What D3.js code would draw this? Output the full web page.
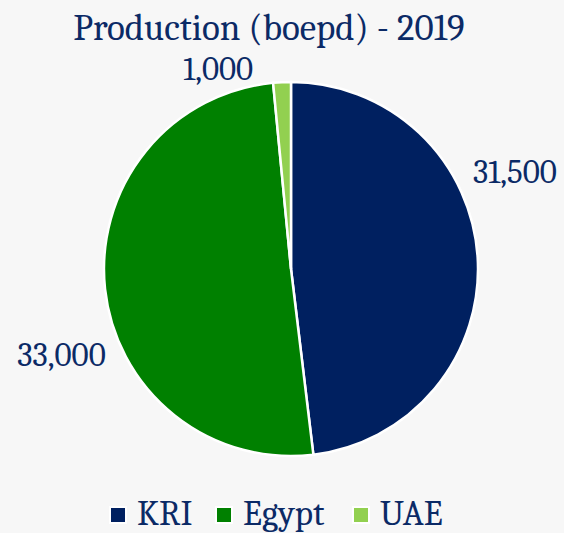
<!DOCTYPE html>
<html>
<head>
<meta charset="utf-8">
<script src="https://cdn.jsdelivr.net/npm/d3@7"></script>
<style>
  body { margin: 0; background: #f7f7f7; }
  svg { display: block; }
</style>
</head>
<body>
<div id="chart"></div>
<script>
const categories = ["KRI", "Egypt", "UAE"];
const values = [31500, 33000, 1000];
const colors = ["#002060", "#008000", "#92d050"];

const width = 564, height = 533;
const cx = 291, cy = 269, radius = 187;
const font = "Cambria, 'Liberation Serif', 'DejaVu Serif', serif";
const navy = "#0b2a66";

const data = categories.map((c, i) => ({ name: c, value: values[i], color: colors[i] }));

const svg = d3.select("#chart")
    .append("svg")
        .attr("width", width)
        .attr("height", height);

svg.append("rect")
    .attr("width", width)
    .attr("height", height)
    .attr("fill", "#f7f7f7");

// Titre
svg.append("text")
    .attr("x", 269)
    .attr("y", 40)
    .attr("text-anchor", "middle")
    .style("font-family", font)
    .style("font-size", "37px")
    .style("fill", navy)
    .text("Production (boepd) - 2019");

const pie = d3.pie()
    .sort(null)
    .value(d => d.value);

const arc = d3.arc()
    .innerRadius(0)
    .outerRadius(radius);

const arcs = pie(data);

const g = svg.append("g")
    .attr("transform", `translate(${cx}, ${cy})`);

g.selectAll("path")
    .data(arcs)
    .enter()
    .append("path")
        .attr("d", arc)
        .attr("fill", d => d.data.color)
        .attr("stroke", "white")
        .attr("stroke-width", 2.5);

// Etiquettes (placement type "best fit")
const labelPos = {
    KRI:   { angle: 66.6, dist: 244 },
    Egypt: { angle: 249.5, dist: 245 },
    UAE:   { angle: 340, dist: 213 }
};
const rad = a => a * Math.PI / 180;

g.selectAll(".label")
    .data(arcs)
    .enter()
    .append("text")
        .attr("class", "label")
        .attr("x", d => labelPos[d.data.name].dist * Math.sin(rad(labelPos[d.data.name].angle)))
        .attr("y", d => -labelPos[d.data.name].dist * Math.cos(rad(labelPos[d.data.name].angle)))
        .attr("dy", "0.34em")
        .attr("text-anchor", "middle")
        .style("font-family", font)
        .style("font-size", "33px")
        .style("fill", navy)
        .text(d => d3.format(",")(d.data.value));

// Légende
const legendX = [110, 216, 353];
const legend = svg.append("g");

const items = legend.selectAll("g")
    .data(data)
    .enter()
    .append("g")
        .attr("transform", (d, i) => `translate(${legendX[i]}, 515)`);

items.append("rect")
    .attr("x", 0)
    .attr("y", -8)
    .attr("width", 16)
    .attr("height", 16)
    .attr("fill", d => d.color)
    .attr("stroke", "white")
    .attr("stroke-width", 2);

items.append("text")
    .attr("x", 27)
    .attr("y", 10)
    .style("font-family", font)
    .style("font-size", "35px")
    .style("fill", navy)
    .text(d => d.name);
</script>
</body>
</html>
